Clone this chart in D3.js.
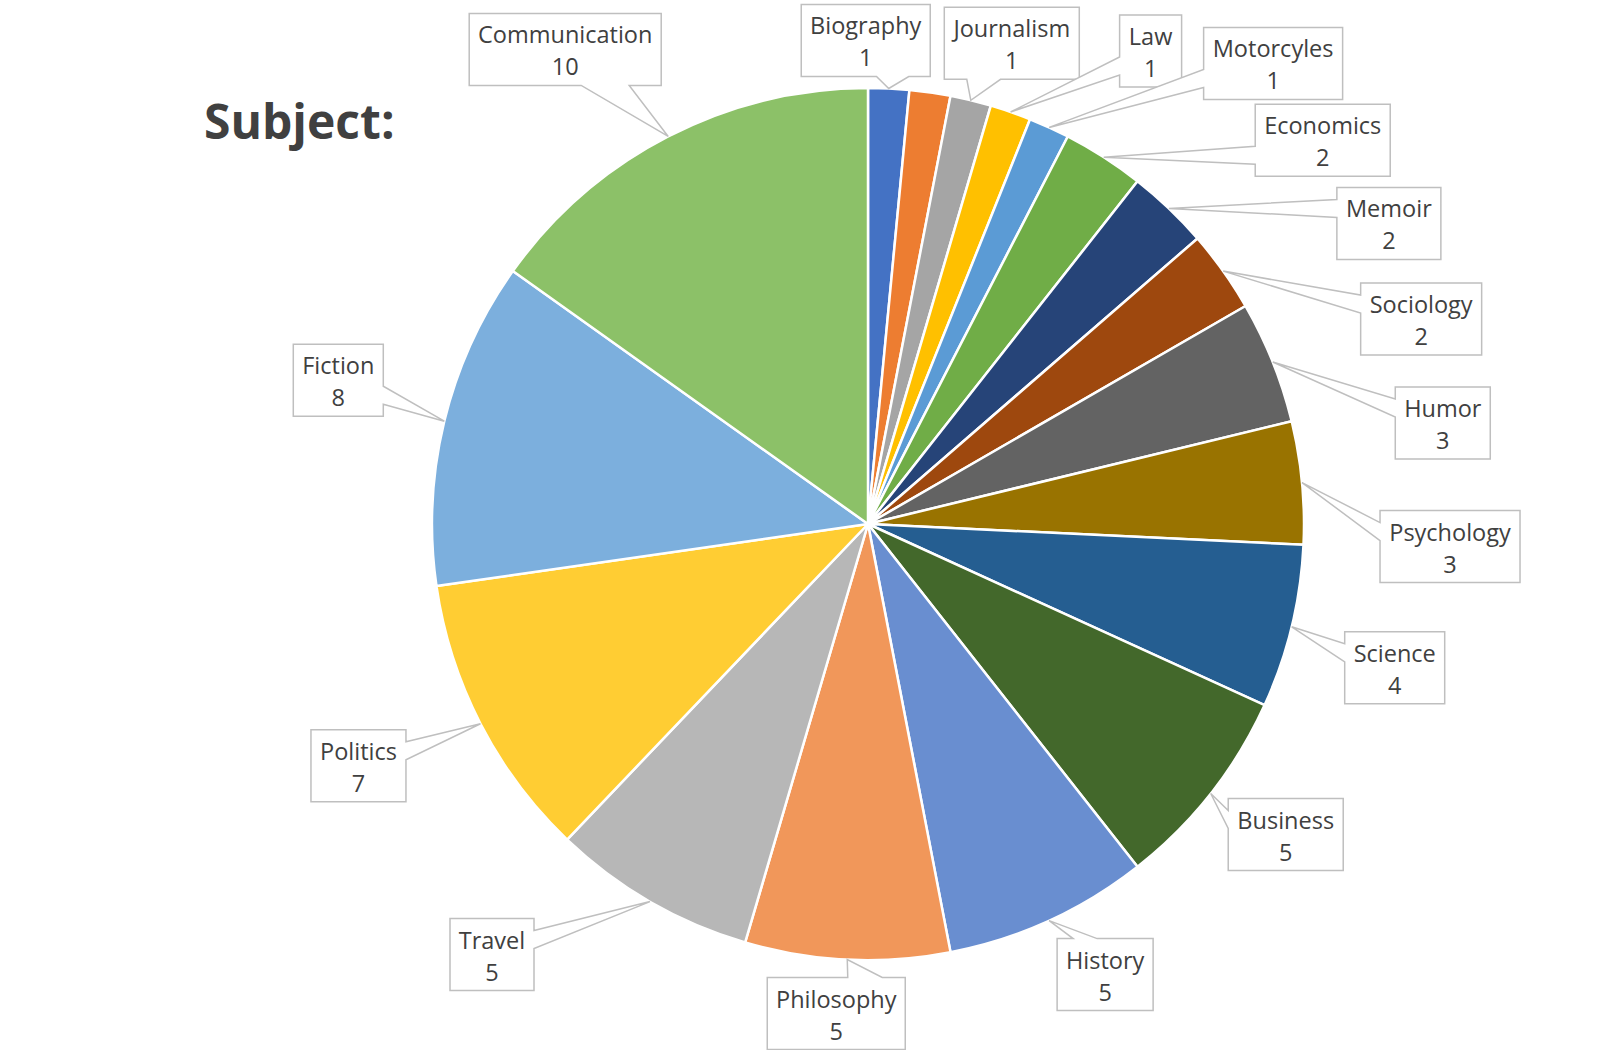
<!DOCTYPE html>
<html>
<head>
<meta charset="utf-8">
<script src="https://cdn.jsdelivr.net/npm/d3@7"></script>
<style>
  html, body { margin: 0; padding: 0; background: #fff; }
  svg { display: block; font-family: "Open Sans", "Noto Sans", sans-serif; }
</style>
</head>
<body>
<svg id="chart"></svg>
<script>
// slice order runs clockwise from 12 o'clock, like the source workbook
const subjects = [
  "Biography", "", "Journalism", "Law", "Motorcyles", "Economics", "Memoir",
  "Sociology", "Humor", "Psychology", "Science", "Business", "History",
  "Philosophy", "Travel", "Politics", "Fiction", "Communication"
];
const counts = [1, 1, 1, 1, 1, 2, 2, 2, 3, 3, 4, 5, 5, 5, 5, 7, 8, 10];
const sliceColors = [
  "#4472C4", "#ED7D31", "#A5A5A5", "#FFC000", "#5B9BD5", "#70AD47", "#264478",
  "#9E480E", "#636363", "#997300", "#255E91", "#43682B", "#698ED0", "#F1975A",
  "#B7B7B7", "#FFCD33", "#7CAFDD", "#8CC168"
];
// callout box centre, offset from the point where the callout touches the slice
const calloutOffsets = [
  [-23, -48], null, [41, -57], [140, -61], [224, -64], [219, -17], [220, 15],
  [198, 48], [170, 61], [148, 64], [103, 41], [75, 41], [56, 54], [-11, 54],
  [-158, 53], [-122, 42], [-106, -41], [-103, -87]
];

const width = 1600;
const height = 1050;
const cx = 868;
const cy = 524;
const radius = 436;
const boxH = 72;
const boxPad = 9;
const textColor = "#404040";
const lineColor = "#BFBFBF";

const data = subjects.map((s, i) => ({
  subject: s,
  count: counts[i],
  color: sliceColors[i],
  offset: calloutOffsets[i]
}));

const chart = d3.select("#chart")
  .attr("width", width)
  .attr("height", height)
  .attr("viewBox", `0 0 ${width} ${height}`);

chart.append("text")
  .text("Subject:")
  .attr("x", 204)
  .attr("y", 139)
  .attr("font-size", 48)
  .attr("font-weight", 700)
  .attr("fill", textColor);

const pie = d3.pie().sort(null).value((d) => d.count);
const arcs = pie(data);
const arc = d3.arc().innerRadius(0).outerRadius(radius);

const g = chart.append("g").attr("transform", `translate(${cx}, ${cy})`);

g.selectAll("path.slice")
  .data(arcs)
  .enter()
  .append("path")
  .attr("class", "slice")
  .attr("d", arc)
  .attr("fill", (d) => d.data.color)
  .attr("stroke", "#fff")
  .attr("stroke-width", 2.5)
  .attr("stroke-linejoin", "round");

// rectangular callout with a wedge pointing at (tx, ty), Office-style
function calloutPath(x0, y0, w, h, tx, ty) {
  const dxPos = tx - (x0 + w / 2);
  const dyPos = ty - (y0 + h / 2);
  const dx = (dxPos * h) / w;
  const x1 = x0 + (w * (dxPos > 0 ? 7 : 2)) / 12;
  const x2 = x0 + (w * (dxPos > 0 ? 10 : 5)) / 12;
  const y1 = y0 + (h * (dyPos > 0 ? 7 : 2)) / 12;
  const y2 = y0 + (h * (dyPos > 0 ? 10 : 5)) / 12;
  const vertical = Math.abs(dyPos) > Math.abs(dx);
  const side = vertical ? (dyPos > 0 ? "b" : "t") : (dxPos > 0 ? "r" : "l");
  const p = d3.path();
  p.moveTo(x0, y0);
  if (side === "t") { p.lineTo(x1, y0); p.lineTo(tx, ty); p.lineTo(x2, y0); }
  p.lineTo(x0 + w, y0);
  if (side === "r") { p.lineTo(x0 + w, y1); p.lineTo(tx, ty); p.lineTo(x0 + w, y2); }
  p.lineTo(x0 + w, y0 + h);
  if (side === "b") { p.lineTo(x2, y0 + h); p.lineTo(tx, ty); p.lineTo(x1, y0 + h); }
  p.lineTo(x0, y0 + h);
  if (side === "l") { p.lineTo(x0, y2); p.lineTo(tx, ty); p.lineTo(x0, y1); }
  p.closePath();
  return p.toString();
}

const labels = chart.append("g").attr("class", "labels");

arcs.filter((d) => d.data.offset).forEach((d) => {
  const mid = (d.startAngle + d.endAngle) / 2;
  const tx = cx + radius * Math.sin(mid);
  const ty = cy - radius * Math.cos(mid);
  const bx = tx + d.data.offset[0];
  const by = ty + d.data.offset[1];

  const lg = labels.append("g").attr("class", "callout");
  const shape = lg.append("path");

  const t1 = lg.append("text")
    .text(d.data.subject)
    .attr("x", bx)
    .attr("y", by - 6)
    .attr("text-anchor", "middle")
    .attr("font-size", 23.5)
    .attr("fill", textColor);
  const t2 = lg.append("text")
    .text(d.data.count)
    .attr("x", bx)
    .attr("y", by + 26)
    .attr("text-anchor", "middle")
    .attr("font-size", 23.5)
    .attr("fill", textColor);

  const tw = Math.max(t1.node().getComputedTextLength(), t2.node().getComputedTextLength());
  const w = Math.round(tw + boxPad * 2);
  const x0 = bx - w / 2;
  const y0 = by - boxH / 2;

  shape
    .attr("d", calloutPath(x0, y0, w, boxH, tx, ty))
    .attr("fill", "#fff")
    .attr("stroke", lineColor)
    .attr("stroke-width", 1.5);
});
</script>
</body>
</html>
